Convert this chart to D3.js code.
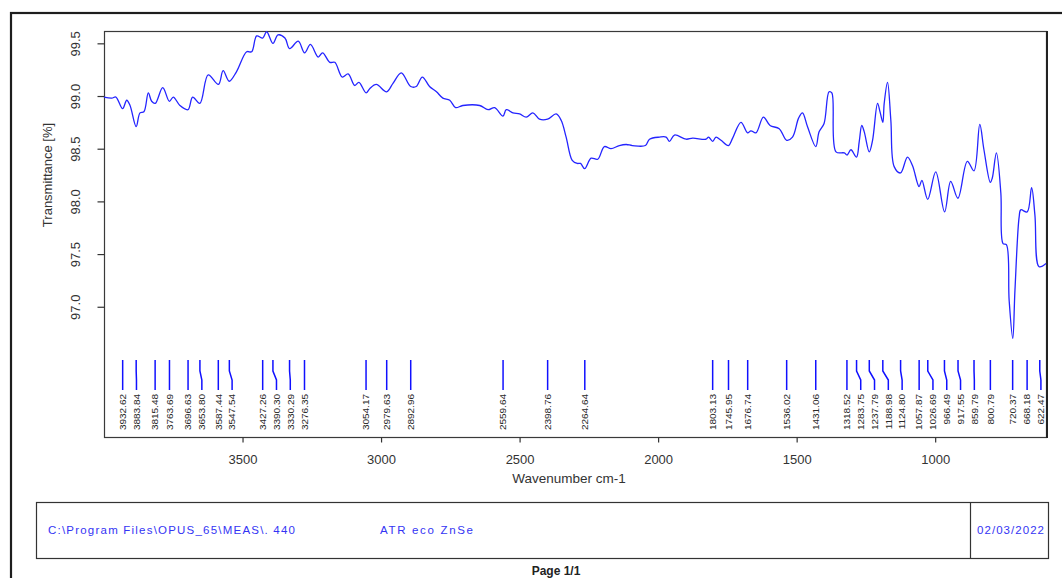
<!DOCTYPE html>
<html>
<head>
<meta charset="utf-8">
<script src="https://cdn.jsdelivr.net/npm/d3@7/dist/d3.min.js"></script>
<style>
  html, body { margin: 0; padding: 0; background: #fff; }
  svg { display: block; font-family: "Liberation Sans", Arial, sans-serif; }
</style>
</head>
<body>
<svg id="chart" width="1062" height="578"></svg>
<script>
// IR spectrum (ATR, ZnSe crystal): wavenumber [cm-1] and transmittance [%]
const wavenumbers = [
  4000, 3972, 3957, 3933, 3918, 3906, 3884, 3870, 3856, 3840, 3828, 3815, 3788, 3764, 3750, 3726,
  3697, 3680, 3654, 3624, 3587, 3570, 3548, 3522, 3485, 3467, 3449, 3427, 3413, 3390, 3372, 3347,
  3330, 3299, 3276, 3255, 3227, 3211, 3185, 3167, 3140, 3119, 3095, 3080, 3054, 3041, 3017, 2980,
  2957, 2927, 2893, 2873, 2851, 2825, 2800, 2777, 2752, 2731, 2705, 2644, 2614, 2590, 2560, 2548,
  2524, 2500, 2476, 2452, 2428, 2399, 2368, 2350, 2332, 2310, 2292, 2280, 2265, 2242, 2218, 2194,
  2170, 2140, 2115, 2093, 2046, 2031, 1995, 1971, 1959, 1941, 1899, 1875, 1827, 1818, 1803, 1791,
  1773, 1746, 1731, 1701, 1677, 1665, 1647, 1620, 1596, 1563, 1536, 1515, 1493, 1479, 1461, 1431,
  1419, 1401, 1383, 1373, 1358, 1328, 1318, 1304, 1284, 1274, 1265, 1256, 1238, 1226, 1208, 1199,
  1189, 1184, 1172, 1160, 1148, 1125, 1100, 1082, 1058, 1048, 1027, 998, 966, 944, 918, 884,
  860, 839, 824, 801, 794, 779, 763, 755, 743, 733, 720, 712, 697, 691, 668, 652,
  640, 625, 600
];
const transmittance = [
  98.99, 98.98, 98.99, 98.88, 98.96, 98.91, 98.71, 98.84, 98.85, 99.03, 98.95, 98.93, 99.08, 98.95, 98.99, 98.91,
  98.87, 98.99, 98.93, 99.20, 99.11, 99.24, 99.14, 99.23, 99.42, 99.42, 99.57, 99.55, 99.61, 99.50, 99.58, 99.55,
  99.45, 99.52, 99.41, 99.49, 99.37, 99.41, 99.32, 99.32, 99.18, 99.21, 99.10, 99.13, 99.03, 99.07, 99.11, 99.04,
  99.12, 99.22, 99.09, 99.09, 99.18, 99.09, 99.04, 98.98, 98.96, 98.89, 98.91, 98.91, 98.87, 98.89, 98.81, 98.87,
  98.84, 98.83, 98.80, 98.84, 98.78, 98.78, 98.83, 98.77, 98.61, 98.39, 98.36, 98.36, 98.31, 98.41, 98.40, 98.52,
  98.50, 98.53, 98.54, 98.53, 98.53, 98.59, 98.61, 98.61, 98.57, 98.63, 98.59, 98.60, 98.59, 98.61, 98.57, 98.61,
  98.58, 98.53, 98.60, 98.75, 98.65, 98.67, 98.65, 98.80, 98.72, 98.69, 98.58, 98.61, 98.79, 98.84, 98.71, 98.52,
  98.66, 98.74, 99.04, 99.03, 98.47, 98.46, 98.44, 98.49, 98.42, 98.57, 98.72, 98.66, 98.47, 98.58, 98.93, 98.85,
  98.75, 98.93, 99.13, 98.77, 98.33, 98.27, 98.42, 98.34, 98.14, 98.20, 98.02, 98.28, 97.90, 98.19, 98.03, 98.38,
  98.29, 98.73, 98.49, 98.18, 98.22, 98.46, 98.08, 97.60, 97.59, 97.06, 96.70, 97.16, 97.85, 97.92, 97.90, 98.13,
  97.87, 97.38, 97.41
];
// Peak-picking results (cm-1)
const peakLabels = [
  "3932.62", "3883.84", "3815.48", "3763.69", "3696.63", "3653.80", "3587.44", "3547.54",
  "3427.26", "3390.30", "3330.29", "3276.35", "3054.17", "2979.63", "2892.96", "2559.64",
  "2398.76", "2264.64", "1803.13", "1745.95", "1676.74", "1536.02", "1431.06", "1318.52",
  "1283.75", "1237.79", "1188.98", "1124.80", "1057.87", "1026.69", "966.49", "917.55",
  "859.79", "800.79", "720.37", "668.18", "622.47"
];
const xTicks = [3500, 3000, 2500, 2000, 1500, 1000];
const yTicks = [97.0, 97.5, 98.0, 98.5, 99.0, 99.5];

const xTitle = "Wavenumber cm-1";
const yTitle = "Transmittance [%]";
const footerPath = "C:\\Program Files\\OPUS_65\\MEAS\\. 440";
const footerMethod = "ATR eco ZnSe";
const footerDate = "02/03/2022";
const pageText = "Page 1/1";

const svg = d3.select("#chart");
const plot = { left: 104, top: 31, right: 1046, bottom: 437 };

const x = d3.scaleLinear().domain([4000, 600]).range([plot.left, plot.right]);
const y = d3.scaleLinear().domain([95.764, 99.617]).range([plot.bottom, plot.top]);

// page frame
svg.append("rect").attr("x", 0).attr("y", 0).attr("width", 1062).attr("height", 578).attr("fill", "#fff");
svg.append("rect")
  .attr("x", 11).attr("y", 13).attr("width", 1200).attr("height", 800)
  .attr("fill", "none").attr("stroke", "#1e1e1e").attr("stroke-width", 2.2);

// plot box
svg.append("rect")
  .attr("x", plot.left + 0.5).attr("y", plot.top + 0.5)
  .attr("width", plot.right - plot.left).attr("height", plot.bottom - plot.top)
  .attr("fill", "none").attr("stroke", "#3a3a3a").attr("stroke-width", 1.2);
svg.append("line")
  .attr("x1", plot.right + 1).attr("x2", plot.right + 1)
  .attr("y1", plot.top).attr("y2", plot.bottom + 1)
  .attr("stroke", "#222").attr("stroke-width", 2);

// x axis
const xAxis = d3.axisBottom(x).tickValues(xTicks).tickSize(5).tickFormat(d3.format("d"));
const gx = svg.append("g").attr("transform", `translate(0,${plot.bottom + 0.5})`).call(xAxis);
gx.select(".domain").remove();
gx.selectAll(".tick line").attr("stroke", "#333").attr("stroke-width", 1.2);
gx.selectAll(".tick text")
  .attr("font-size", 13).attr("fill", "#333").attr("dy", null).attr("y", 26)
  .attr("font-family", "'Liberation Sans', Arial, sans-serif");

svg.append("text")
  .attr("x", 569).attr("y", 483)
  .attr("text-anchor", "middle").attr("font-size", 13.5).attr("fill", "#333")
  .text(xTitle);

// y axis
const yAxis = d3.axisLeft(y).tickValues(yTicks).tickSize(7).tickFormat(d3.format(".1f"));
const gy = svg.append("g").attr("transform", `translate(${plot.left + 0.5},0)`).call(yAxis);
gy.select(".domain").remove();
gy.selectAll(".tick line").attr("stroke", "#333").attr("stroke-width", 1.2);
gy.selectAll(".tick text")
  .attr("x", null).attr("dy", null)
  .attr("transform", "translate(-25,0) rotate(-90)")
  .attr("text-anchor", "middle")
  .attr("font-size", 13).attr("fill", "#333")
  .attr("font-family", "'Liberation Sans', Arial, sans-serif");

svg.append("text")
  .attr("transform", "translate(52,175) rotate(-90)")
  .attr("text-anchor", "middle").attr("font-size", 13).attr("fill", "#333")
  .text(yTitle);

// spectrum
const spectrum = wavenumbers.map((w, i) => ({ w, t: transmittance[i] }));
const line = d3.line().x(d => x(d.w)).y(d => y(d.t)).curve(d3.curveCatmullRom.alpha(0.5));
svg.append("path")
  .datum(spectrum)
  .attr("d", line)
  .attr("fill", "none").attr("stroke", "#2424ff").attr("stroke-width", 1.3)
  .attr("stroke-linejoin", "round");

// peak markers with spread-out labels
const minGap = 13.8;
let prev = -Infinity;
const peaks = peakLabels.map(s => {
  const px = x(+s);
  const lx = Math.max(px, prev + minGap);
  prev = lx;
  return { s, px, lx };
});
const gp = svg.append("g");
gp.selectAll("path.peak").data(peaks).join("path")
  .attr("class", "peak")
  .attr("d", d => `M${d.px},360 L${d.px},371 L${d.lx},380 L${d.lx},390`)
  .attr("fill", "none").attr("stroke", "#1010ff").attr("stroke-width", 1.5);
gp.selectAll("text.peak").data(peaks).join("text")
  .attr("class", "peak")
  .attr("transform", d => `translate(${d.lx + 0.5},394) rotate(-90) scale(1,0.85)`)
  .attr("text-anchor", "end").attr("dominant-baseline", "central")
  .attr("font-size", 10).attr("fill", "#2a2a2a")
  .text(d => d.s);

// footer box
svg.append("rect")
  .attr("x", 36.5).attr("y", 502.5).attr("width", 1012).attr("height", 56)
  .attr("fill", "none").attr("stroke", "#333").attr("stroke-width", 1.2);
svg.append("line")
  .attr("x1", 970.5).attr("x2", 970.5).attr("y1", 502.5).attr("y2", 558.5)
  .attr("stroke", "#333").attr("stroke-width", 1.2);
svg.append("text").attr("x", 48).attr("y", 534)
  .attr("font-size", 11.5).attr("fill", "#3434f4")
  .attr("textLength", 247).attr("lengthAdjust", "spacing")
  .text(footerPath);
svg.append("text").attr("x", 380).attr("y", 534)
  .attr("font-size", 11.5).attr("fill", "#3434f4")
  .attr("textLength", 93).attr("lengthAdjust", "spacing")
  .text(footerMethod);
svg.append("text").attr("x", 977).attr("y", 534)
  .attr("font-size", 11.5).attr("fill", "#3434f4")
  .attr("textLength", 67).attr("lengthAdjust", "spacing")
  .text(footerDate);

svg.append("text").attr("x", 556).attr("y", 575)
  .attr("text-anchor", "middle").attr("font-size", 12).attr("font-weight", "bold").attr("fill", "#222")
  .text(pageText);
</script>
</body>
</html>
